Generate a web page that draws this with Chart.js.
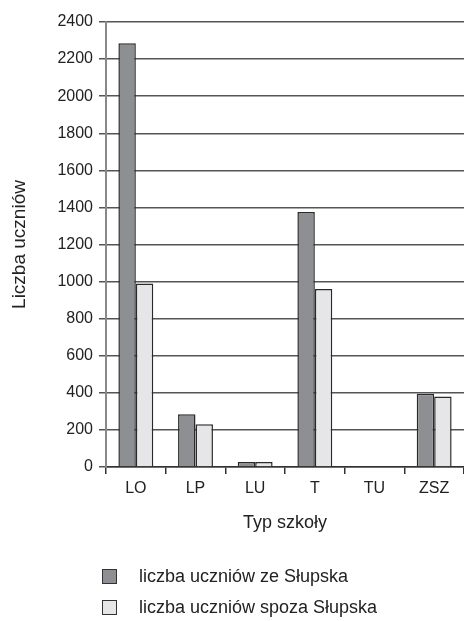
<!DOCTYPE html>
<html>
<head>
<meta charset="utf-8">
<script src="https://cdn.jsdelivr.net/npm/chart.js@4"></script>
<style>
  html, body { margin: 0; padding: 0; background: #fff; }
  #wrap { position: relative; width: 464px; height: 621px; }
  #legend { position: absolute; left: 102px; top: 561px; font-family: "Liberation Sans", Arial, sans-serif; font-size: 18px; color: #222; }
  .item { display: flex; align-items: center; height: 31px; }
  .sw { width: 15px; height: 15px; border: 1px solid #333; box-sizing: border-box; margin-right: 22px; }
</style>
</head>
<body>
<div id="wrap">
  <canvas id="c" width="464" height="621"></canvas>
  <div id="legend"></div>
</div>
<script>
const categories = ["LO", "LP", "LU", "T", "TU", "ZSZ"];
const seriesNames = ["liczba uczniów ze Słupska", "liczba uczniów spoza Słupska"];
const fromSlupsk = [2285, 285, 27, 1375, 0, 395];
const outsideSlupsk = [990, 230, 27, 960, 0, 380];
const yTicks = [0, 200, 400, 600, 800, 1000, 1200, 1400, 1600, 1800, 2000, 2200, 2400];
const colors = ["#8e8f93", "#e6e6e8"];

const fam = "'Liberation Sans', Arial, sans-serif";
const tickFont = { family: fam, size: 16 };
const titleFont = { family: fam, size: 18 };

const chart = new Chart(document.getElementById('c'), {
  type: 'bar',
  data: {
    labels: categories,
    datasets: [
      { label: seriesNames[0], data: fromSlupsk, backgroundColor: colors[0], borderColor: '#2a2a2a', borderWidth: 1.5 },
      { label: seriesNames[1], data: outsideSlupsk, backgroundColor: colors[1], borderColor: '#2a2a2a', borderWidth: 1.5 }
    ]
  },
  options: {
    responsive: false,
    animation: false,
    devicePixelRatio: 1,
    layout: { padding: { left: 8, top: 22, right: 0, bottom: 87 } },
    plugins: { legend: { display: false }, tooltip: { enabled: false } },
    datasets: { bar: { categoryPercentage: 0.585, barPercentage: 1.0 } },
    scales: {
      x: {
        grid: { drawOnChartArea: false, drawTicks: true, tickLength: 7, color: '#333', offset: true, lineWidth: 1.5 },
        border: { color: '#333', width: 1.5 },
        ticks: { font: tickFont, color: '#222', padding: 5 },
        title: { display: true, text: 'Typ szkoły', font: titleFont, color: '#222', padding: { top: 0, bottom: 0 } },
        afterFit: (s) => { s.height = 67; }
      },
      y: {
        min: 0, max: 2400,
        afterBuildTicks: (s) => { s.ticks = yTicks.map(v => ({ value: v })); },
        grid: { color: '#555', lineWidth: 1.5, tickLength: 7 },
        border: { color: '#888', width: 2 },
        ticks: { font: tickFont, color: '#222', padding: 6, callback: (v) => String(v) },
        title: { display: true, text: 'Liczba uczniów', font: { family: fam, size: 19 }, color: '#222', padding: 0 },
        afterFit: (s) => { s.width = 98; }
      }
    }
  }
});

const legend = document.getElementById('legend');
chart.data.datasets.forEach((ds) => {
  const it = document.createElement('div');
  it.className = 'item';
  const sw = document.createElement('span');
  sw.className = 'sw';
  sw.style.background = ds.backgroundColor;
  const tx = document.createElement('span');
  tx.textContent = ds.label;
  it.appendChild(sw); it.appendChild(tx);
  legend.appendChild(it);
});
</script>
</body>
</html>
